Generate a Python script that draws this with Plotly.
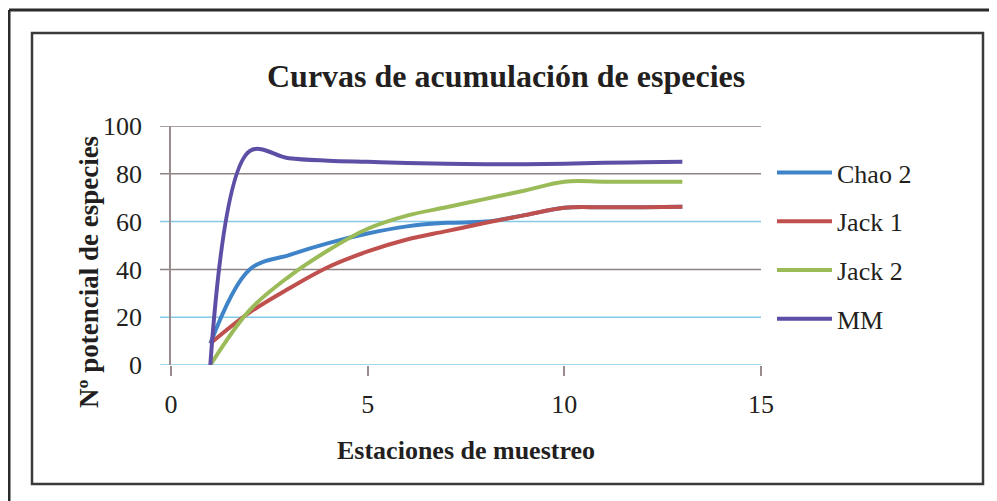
import plotly.graph_objects as go

# ---- data ----
estaciones = [1, 2, 3, 4, 5, 6, 7, 8, 9, 10, 11, 12, 13]
chao2 = [9, 40, 46, 51, 55, 58, 59.5, 60, 62.7, 65.8, 66, 66, 66.2]
jack1 = [9, 22, 32, 41, 47.5, 52.5, 56, 59.5, 62.7, 65.8, 66, 66, 66.2]
jack2 = [0, 23, 37, 48, 57, 62.5, 66, 69.5, 73, 76.7, 76.7, 76.7, 76.7]
mm = [0, 89.5, 86.5, 85.5, 85, 84.5, 84.2, 84, 84, 84.2, 84.6, 84.8, 85]

series_names = ["Chao 2", "Jack 1", "Jack 2", "MM"]
series_values = [chao2, jack1, jack2, mm]
series_colors = ["#3f84c8", "#c0504d", "#9bbb59", "#5e4ea6"]

x_ticks = [0, 5, 10, 15]
y_ticks = [0, 20, 40, 60, 80, 100]
grid_colors = ["#86c8e6", "#86c8e6", "#8e8282", "#86c8e6", "#8e8282", "#8e8282"]

title_text = "Curvas de acumulación de especies"
x_title = "Estaciones de muestreo"
y_title = "Nº potencial de especies"

# ---- layout geometry (page pixels; page body has an 8px margin) ----
OFF = 8
PW, PH = 997, 501
W, H = PW - OFF, PH - OFF
L, R, T, B = 171, 761, 126, 365          # plot area in page pixels
FONT = "Liberation Serif, Times New Roman, serif"


def px_x(p):
    return (p - L) / (R - L)


def px_y(p):
    return (B - p) / (B - T)


fig = go.Figure()
for name, vals, col in zip(series_names, series_values, series_colors):
    fig.add_trace(go.Scatter(
        x=estaciones, y=vals, name=name, mode="lines",
        line=dict(color=col, width=4, shape="spline", smoothing=1),
        legendgroup=name,
    ))

shapes = []
for yv, gc in zip(y_ticks, grid_colors):
    shapes.append(dict(type="line", xref="paper", yref="y",
                       x0=px_x(160), x1=1, y0=yv, y1=yv,
                       line=dict(color=gc, width=1.5), layer="below"))
# outer frame (top + left)
shapes.append(dict(type="line", xref="paper", yref="paper",
                   x0=px_x(9), x1=px_x(PW + 10), y0=px_y(10), y1=px_y(10),
                   line=dict(color="#2b2b2b", width=3)))
shapes.append(dict(type="line", xref="paper", yref="paper",
                   x0=px_x(9), x1=px_x(9), y0=px_y(10), y1=px_y(PH + 10),
                   line=dict(color="#2b2b2b", width=3)))
# inner box
shapes.append(dict(type="rect", xref="paper", yref="paper",
                   x0=px_x(32), x1=px_x(983), y0=px_y(33), y1=px_y(484),
                   line=dict(color="#3a3a3a", width=2.5)))

annotations = [
    dict(text=f"<b>{title_text}</b>", xref="paper", yref="paper",
         x=px_x(506), y=px_y(76), xanchor="center", yanchor="middle",
         showarrow=False, font=dict(family=FONT, size=32, color="#231f20")),
    dict(text=f"<b>{x_title}</b>", xref="paper", yref="paper",
         x=px_x(466), y=px_y(450), xanchor="center", yanchor="middle",
         showarrow=False, font=dict(family=FONT, size=26, color="#231f20")),
    dict(text=f"<b>{y_title}</b>", xref="paper", yref="paper",
         x=px_x(89), y=px_y(272), xanchor="center", yanchor="middle",
         textangle=-90, showarrow=False,
         font=dict(family=FONT, size=27, color="#231f20")),
]

fig.update_layout(
    width=W, height=H,
    margin=dict(l=L - OFF, r=W - (R - OFF), t=T - OFF, b=H - (B - OFF), pad=0),
    paper_bgcolor="white", plot_bgcolor="white",
    font=dict(family=FONT, size=26, color="#231f20"),
    showlegend=True,
    legend=dict(x=px_x(772), xanchor="left", y=px_y(149), yanchor="top",
                traceorder="grouped", tracegroupgap=12, itemwidth=55,
                font=dict(family=FONT, size=26, color="#231f20"),
                bgcolor="rgba(0,0,0,0)"),
    shapes=shapes,
    annotations=annotations,
    xaxis=dict(range=[0, 15], tickvals=x_ticks, showgrid=False, zeroline=False,
               showline=False, ticks="outside", ticklen=10, tickwidth=1.5,
               tickcolor="#9a8c8c", ticklabelstandoff=6,
               tickfont=dict(family=FONT, size=26, color="#231f20")),
    yaxis=dict(range=[0, 100], tickvals=y_ticks, showgrid=False, zeroline=False,
               showline=True, linecolor="#9a8c8c", linewidth=1.5,
               ticks="", ticklabelstandoff=22,
               tickfont=dict(family=FONT, size=26, color="#231f20")),
)

fig.write_html("out.html")
